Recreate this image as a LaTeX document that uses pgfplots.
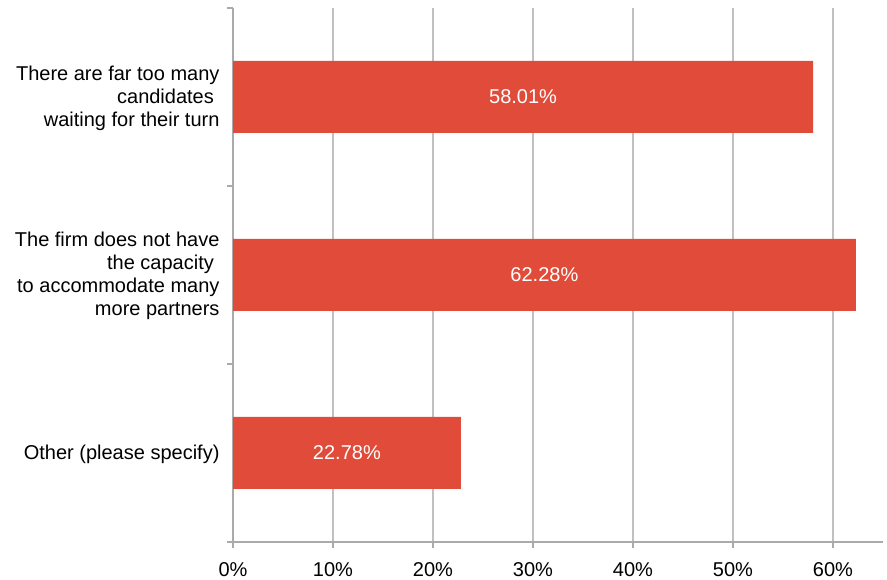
\documentclass[border=0pt]{standalone}
\usepackage{fontspec}
\setmainfont{Liberation Sans}
\usepackage{pgfplots}
\pgfplotsset{compat=1.18}
\definecolor{barred}{RGB}{224,76,57}
\definecolor{gridgray}{RGB}{192,192,192}
\definecolor{axisgray}{RGB}{170,170,170}
\begin{document}
\begin{tikzpicture}
\useasboundingbox (0,0) rectangle (887bp,580bp);
\begin{axis}[
    at={(233bp,38bp)}, anchor=south west,
    scale only axis, width=650bp, height=534bp,
    font=\fontsize{20bp}{23bp}\selectfont,
    xmin=0, xmax=65, ymin=-0.5, ymax=2.5,
    axis x line*=bottom, axis y line*=left,
    axis line style={axisgray, line width=1.2bp},
    xtick={0,10,...,60},
    xticklabels={0\%,10\%,20\%,30\%,40\%,50\%,60\%},
    xmajorgrids, major grid style={gridgray, line width=1.2bp},
    tick align=outside, major tick length=6bp,
    tick style={axisgray, line width=1.2bp},
    ytick={-0.5,0.5,1.5,2.5}, yticklabels={},
    extra y ticks={0,1,2},
    extra y tick style={tick style={draw=none}},
    extra y tick labels={
        {Other (please specify)},
        {The firm does not have\\the capacity\rule{0.28em}{0pt}\\to accommodate many\\more partners},
        {There are far too many\\candidates\rule{0.28em}{0pt}\\waiting for their turn}},
    yticklabel style={align=right, xshift=-4bp, yshift=-1bp},
    xticklabel style={yshift=-11bp},
]
\addplot[xbar, bar width=72bp, fill=barred, draw=none]
    coordinates {(58.01,2) (62.28,1) (22.78,0)};
\addplot[draw=none, mark=none, nodes near coords, point meta=explicit symbolic,
    every node near coord/.style={anchor=center, text=white}]
    coordinates {(29.005,2) [58.01\%] (31.14,1) [62.28\%] (11.39,0) [22.78\%]};
\end{axis}
\end{tikzpicture}
\end{document}
